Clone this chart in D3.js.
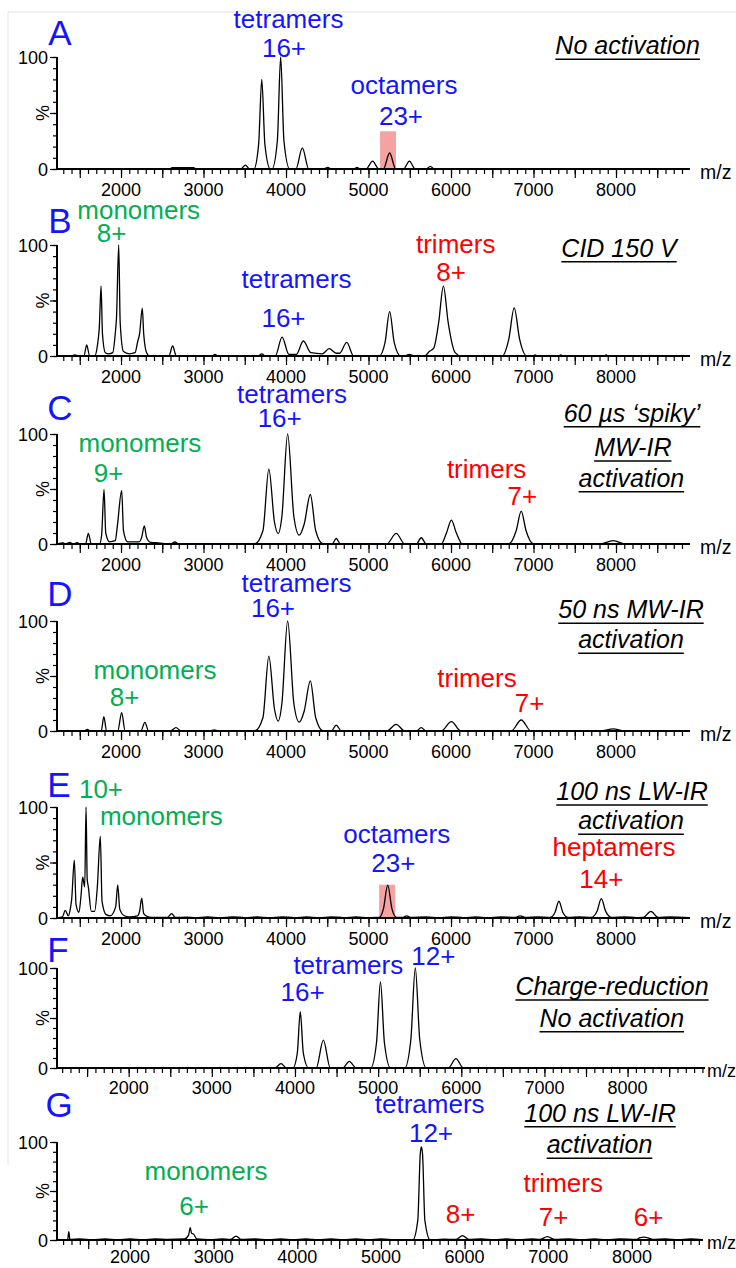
<!DOCTYPE html>
<html><head><meta charset="utf-8">
<script src="https://cdn.jsdelivr.net/npm/d3@7"></script>
<style>
body{margin:0;background:#fff;}
svg{display:block;font-family:"Liberation Sans",Arial,sans-serif;}
</style></head><body>
<svg id="c" width="736" height="1268"></svg>
<script>
// ---------- data (m/z, relative intensity %) ----------
const tickLabels = [2000,3000,4000,5000,6000,7000,8000];
const yTickLabels = [0,100];

const spectrumA = [[1224,0],[2590,0],[2620,1.2],[2880,1.2],[2910,0],
 [3450,0],[3507,3.5],[3560,0],
 [3610,0],[3668,22],[3706,80],[3744,22],[3810,0],
 [3830,0],[3895,25],[3935,100],[3975,25],[4045,0],
 [4120,0],[4198,18.8],[4275,0],
 [4460,0],[4506,1.5],[4550,0],[4820,0],[4861,1.5],[4900,0],
 [4970,0],[5050,7],[5125,0],[5180,0],[5256,14.3],[5330,0],
 [5425,0],[5496,7],[5565,0],[5700,0],[5748,2.4],[5800,0],[8897,0]];

const spectrumB = [[1224,0],[1400,0],[1442,1],[1480,0],
 [1550,0],[1584,9.9],[1620,0],
 [1680,0],[1715,10],[1737,26],[1758,63],[1775,20],[1810,3],[1850,2],
 [1900,3],[1930,20],[1945,34],[1972,100],[1990,30],[2030,4],[2100,2],
 [2170,3],[2202,13],[2225,20],[2258,43],[2275,20],[2310,3],[2350,0],
 [2580,0],[2626,9],[2670,0],[3100,0],[3139,1.5],[3180,0],
 [3660,0],[3706,2],[3750,0],
 [3870,0],[3952,17],[4035,1.5],[4125,1.5],[4210,13.5],[4300,3],[4440,2],[4524,6.6],[4610,2.5],[4650,2.5],[4736,12.3],[4820,0],
 [5130,0],[5200,12],[5256,40],[5312,12],[5390,0],
 [5440,0],[5496,1.5],[5550,0],
 [5680,0],[5736,4],[5790,7],[5850,30],[5908,63],[5966,30],[6050,3],[6120,0],
 [6620,0],[6700,15],[6766,43.4],[6832,15],[6920,0],
 [6990,0],[7020,1],[7050,0],[7300,0],[7330,1],[7360,0],[7850,0],[7880,1],[7910,0],[8897,0]];

const spectrumC = [[1224,0],[1300,1],[1330,0],[1380,1.5],[1420,0],[1470,1.2],[1500,0],
 [1570,0],[1604,9.7],[1640,0],
 [1740,0],[1765,8],[1794,49.7],[1815,10],[1860,2],
 [1930,3],[1955,16],[2008,48.5],[2030,12],[2080,2],
 [2220,2],[2250,6],[2282,16.4],[2310,6],[2360,1.5],
 [2450,1],[2600,0],[2654,1.8],[2700,0],
 [3620,0],[3720,12],[3792,68],[3860,20],[3905,9.5],[3950,25],[4020,100],[4095,25],[4160,8],[4220,18],[4295,45],[4360,12],[4450,0],
 [4560,0],[4609,5],[4660,0],
 [5220,0],[5336,9.6],[5440,0],
 [5580,0],[5639,5.7],[5700,0],
 [5880,0],[5945,10],[6005,21.7],[6065,10],[6140,0],
 [6700,0],[6790,12],[6851,29.8],[6910,12],[7000,0],
 [7800,0],[7966,3],[8120,0],[8897,0]];

const spectrumD = [[1224,0],[1550,0],[1591,1.5],[1630,0],
 [1760,0],[1792,13],[1825,0],
 [1960,0],[2008,16.6],[2050,0],
 [2240,0],[2289,7.9],[2335,0],
 [2600,0],[2666,3],[2730,0],
 [3080,0],[3130,1],[3180,0],
 [3620,0],[3720,12],[3792,68],[3860,20],[3905,9],[3950,25],[4020,100],[4095,25],[4160,8],[4220,18],[4295,45.6],[4360,12],[4450,0],
 [4550,0],[4609,5.4],[4670,0],
 [5220,0],[5336,6],[5440,0],
 [5580,0],[5639,3],[5700,0],
 [5880,0],[6005,8.5],[6120,0],
 [6730,0],[6851,10],[6970,0],
 [7820,0],[7966,2],[8100,0],[8897,0]];

const spectrumE = [[1224,0],[1290,1],[1324,6.9],[1360,2],[1385,8],[1402,17],[1434,52.2],[1455,12],
 [1490,5],[1515,20],[1535,36.7],[1560,28],[1576,100],[1590,35],[1604,28],[1640,6],
 [1680,6],[1713,28],[1749,73.7],[1770,15],[1820,3],[1870,2],
 [1935,10],[1960,29.9],[1985,8],[2040,2],[2100,1],
 [2200,2],[2225,6],[2251,17.9],[2275,4],[2330,1],[2400,0.5],
 [2560,0.5],[2614,3.9],[2660,0.5],
 [2800,0.8],[2900,0.3],[3050,0.9],[3200,0.3],[3350,1],[3500,0.4],[3650,0.9],[3800,0.3],[3950,1],[4100,0.4],[4250,0.9],[4400,0.3],[4550,1],[4700,0.4],[4850,0.9],[5000,0.4],
 [5130,0.5],[5180,8],[5233,29.6],[5285,8],[5340,0.5],
 [5420,0.5],[5462,2],[5510,0.5],
 [5700,0.9],[5850,0.3],[6000,1],[6150,0.4],[6300,0.9],[6450,0.3],[6600,1],
 [6780,0.5],[6839,2],[6900,0.5],
 [7050,0.9],[7200,0.5],[7260,5],[7308,15.1],[7356,5],[7420,0.5],
 [7550,1],[7700,0.5],[7770,6],[7822,17.5],[7875,6],[7950,0.5],
 [8100,1],[8250,0.4],[8330,0.5],[8423,6],[8510,0.5],[8650,0.9],[8897,0.3]];

const spectrumF = [[1138,0],[3760,0],[3832,4.4],[3900,0],
 [3975,0],[4028,15],[4064,56.4],[4100,15],[4165,0],
 [4255,0],[4341,27.9],[4425,0],
 [4575,0],[4653,6.7],[4735,0],
 [4910,0],[4980,25],[5028,86],[5076,25],[5150,0],
 [5320,0],[5393,28],[5447,100],[5501,28],[5580,0],
 [5845,0],[5935,9.4],[6025,0],[8931,0]];

const spectrumG = [[1127,0],[1255,0.5],[1268,8.5],[1281,0.5],[1400,1],[1550,0.3],[1700,1],[1850,0.4],[2000,1],[2150,0.3],[2300,1],[2450,0.5],
 [2650,1],[2700,5],[2720,12.5],[2735,7],[2760,6],[2800,1],[2950,0.4],[3100,1],
 [3200,0.5],[3268,4],[3330,0.5],[3500,1],[3650,0.3],[3800,1],[3950,0.4],[4100,1],[4250,0.3],[4400,1],[4550,0.4],[4700,1],[4850,0.3],[5000,1],[5150,0.4],
 [5380,0],[5440,20],[5470,88],[5483,95],[5497,88],[5525,20],[5590,0],
 [5750,0.8],[5900,0.5],[5974,4.4],[6050,0.5],[6200,1],[6350,0.3],[6500,1],[6650,0.4],[6800,1],
 [6900,0.5],[6988,3.4],[7080,0.5],[7250,1],[7400,0.3],[7550,1],[7700,0.4],[7850,1],
 [8050,0.5],[8100,2.5],[8143,3],[8200,2],[8250,0.5],[8400,1],[8550,0.3],[8700,1],[8850,0]];

const highlightA = [5140,5333,33.7];
const highlightE = [5129,5324,30];

// ---------- layout ----------
const C = {blue:"#1414ff", green:"#00b050", red:"#ff0000"};
const panels = [
 {id:"A", top:57, base:169, x0:57, x1:690, dom:[1224,8897], data:spectrumA, box:highlightA, tickDy:27, mz:[700,179,19.5]},
 {id:"B", top:245, base:356, x0:57, x1:690, dom:[1224,8897], data:spectrumB, tickDy:27, mz:[700,366,19.5]},
 {id:"C", top:434, base:544, x0:57, x1:690, dom:[1224,8897], data:spectrumC, tickDy:27, mz:[700,554,19.5]},
 {id:"D", top:621, base:731, x0:57, x1:690, dom:[1224,8897], data:spectrumD, tickDy:27, mz:[700,741,19.5]},
 {id:"E", top:807, base:918, x0:57, x1:690, dom:[1224,8897], data:spectrumE, box:highlightE, tickDy:27, mz:[700,928,19.5]},
 {id:"F", top:968, base:1068, x0:57, x1:705, dom:[1138,8931], data:spectrumF, tickDy:26, mz:[707,1077,18]},
 {id:"G", top:1142, base:1240, x0:57, x1:703, dom:[1127,8850], data:spectrumG, tickDy:23, mz:[707,1249,18]}
];
const letters = [["A",60,45],["B",60,233],["C",60,420],["D",60,606],["E",59,797],["F",58,962],["G",59,1117]];
const labels = [
 ["tetramers","blue",288.5,27.5],["16+","blue",284,56.7],["octamers","blue",404,94],["23+","blue",401,125],
 ["monomers","green",138.7,219.3],["8+","green",111.6,241.7],["tetramers","blue",296.5,288.3],["16+","blue",283.5,327.3],["trimers","red",455.7,253.3],["8+","red",451,280.7],
 ["tetramers","blue",292,403.3],["16+","blue",279.7,427.3],["monomers","green",139.9,451.7],["9+","green",108.5,481.7],["trimers","red",486.6,477.7],["7+","red",522.4,505],
 ["tetramers","blue",296.5,591.7],["16+","blue",273,616.7],["monomers","green",155,679],["8+","green",124.5,705.7],["trimers","red",477,686.7],["7+","red",529.7,711.7],
 ["10+","green",101,798.3],["monomers","green",161.3,825],["octamers","blue",396.7,842.7],["23+","blue",393.4,871.7],["heptamers","red",614,856],["14+","red",601.4,888.3],
 ["tetramers","blue",348.3,974.3],["12+","blue",433.3,965],["16+","blue",302.6,1001],
 ["tetramers","blue",429.7,1113.3],["12+","blue",431,1142.3],["monomers","green",206,1180],["6+","green",194,1215],["trimers","red",563.2,1191.7],["8+","red",460.6,1223.3],["7+","red",553.7,1225.7],["6+","red",648.6,1225.7]
];
const titles = [
 ["No activation",627.6,54.3],["CID 150 V",619,256.7],
 ["60 \u00b5s \u2018spiky\u2019",632,421.7],["MW-IR",632.8,456],["activation",631.4,486.7],
 ["50 ns MW-IR",631,618.3],["activation",631,648.3],
 ["100 ns LW-IR",632,800],["activation",631,829.3],
 ["Charge-reduction",612,995],["No activation",611.8,1026.7],
 ["100 ns LW-IR",600,1121.7],["activation",599.5,1153.3]
];

// ---------- drawing ----------
const svg = d3.select("#c");
svg.append("rect").attr("width",736).attr("height",1268).attr("fill","#fff");
svg.append("line").attr("x1",8).attr("x2",736).attr("y1",12).attr("y2",12).attr("stroke","#e2e2e2");
svg.append("line").attr("x1",8).attr("x2",8).attr("y1",12).attr("y2",1165).attr("stroke","#e6e6e6");

panels.forEach(p => {
  const x = d3.scaleLinear().domain(p.dom).range([p.x0,p.x1]);
  const y = d3.scaleLinear().domain([0,100]).range([p.base,p.top]);
  const g = svg.append("g");
  if (p.box) {
    g.append("rect").attr("x",x(p.box[0])).attr("width",x(p.box[1])-x(p.box[0]))
      .attr("y",y(p.box[2])).attr("height",y(0)-y(p.box[2])).attr("fill","#f4a2a2");
  }
  const line = d3.line().x(d=>x(d[0])).y(d=>y(d[1])).curve(d3.curveMonotoneX);
  g.append("path").datum(p.data).attr("d",line).attr("fill","none").attr("stroke","#000").attr("stroke-width",1.3).attr("stroke-linejoin","round");

  const start = Math.ceil(p.dom[0]/100)*100;
  const minor = d3.range(start, p.dom[1], 100);
  const major = minor.filter(v=>v%500===0);
  const ax1 = g.append("g").attr("transform",`translate(0,${p.base})`)
    .call(d3.axisBottom(x).tickValues(minor).tickSize(5).tickSizeOuter(0).tickFormat(""));
  const ax2 = g.append("g").attr("transform",`translate(0,${p.base})`)
    .call(d3.axisBottom(x).tickValues(major).tickSize(9).tickSizeOuter(0).tickFormat(""));
  [ax1,ax2].forEach(a=>{a.select(".domain").remove(); a.selectAll("line").attr("stroke","#000").attr("stroke-width",1.2);});
  g.append("line").attr("x1",p.x0).attr("x2",p.x1).attr("y1",p.base).attr("y2",p.base).attr("stroke","#000").attr("stroke-width",2.2);
  g.selectAll(".xl").data(tickLabels).join("text").attr("class","xl")
    .attr("x",d=>x(d)).attr("y",p.base+p.tickDy).attr("text-anchor","middle")
    .attr("font-size",18).attr("fill","#000").text(d=>d);
  g.append("text").attr("x",p.mz[0]).attr("y",p.mz[1]).attr("font-size",p.mz[2]).text("m/z");

  const ay1 = g.append("g").attr("transform",`translate(${p.x0},0)`)
    .call(d3.axisLeft(y).tickValues(d3.range(0,101,10)).tickSize(4).tickSizeOuter(0).tickFormat(""));
  const ay2 = g.append("g").attr("transform",`translate(${p.x0},0)`)
    .call(d3.axisLeft(y).tickValues([0,50,100]).tickSize(7).tickSizeOuter(0).tickFormat(""));
  [ay1,ay2].forEach(a=>{a.select(".domain").remove(); a.selectAll("line").attr("stroke","#000").attr("stroke-width",1.2);});
  g.append("line").attr("x1",p.x0).attr("x2",p.x0).attr("y1",p.base+1).attr("y2",p.top).attr("stroke","#000").attr("stroke-width",2);
  g.selectAll(".yl").data(yTickLabels).join("text").attr("class","yl")
    .attr("x",p.x0-9).attr("y",d=>y(d)+6.5).attr("text-anchor","end").attr("font-size",18).text(d=>d);
  g.append("text").attr("transform",`translate(${p.x0-8},${y(50)}) rotate(-90)`)
    .attr("text-anchor","middle").attr("font-size",18).text("%");
});

letters.forEach(([t,lx,ly])=>{
  svg.append("text").attr("x",lx).attr("y",ly).attr("text-anchor","middle")
    .attr("font-size",35).attr("fill",C.blue).text(t);
});
labels.forEach(([t,c,lx,ly])=>{
  svg.append("text").attr("x",lx).attr("y",ly).attr("text-anchor","middle")
    .attr("font-size",26).attr("fill",C[c]).text(t);
});
titles.forEach(([t,lx,ly])=>{
  const tx = svg.append("text").attr("x",lx).attr("y",ly).attr("text-anchor","middle")
    .attr("font-size",25).attr("font-style","italic").attr("fill","#000").text(t);
  const w = tx.node().getComputedTextLength();
  svg.append("line").attr("x1",lx-w/2).attr("x2",lx+w/2).attr("y1",ly+5).attr("y2",ly+5)
    .attr("stroke","#000").attr("stroke-width",1.6);
});
</script>
</body></html>
